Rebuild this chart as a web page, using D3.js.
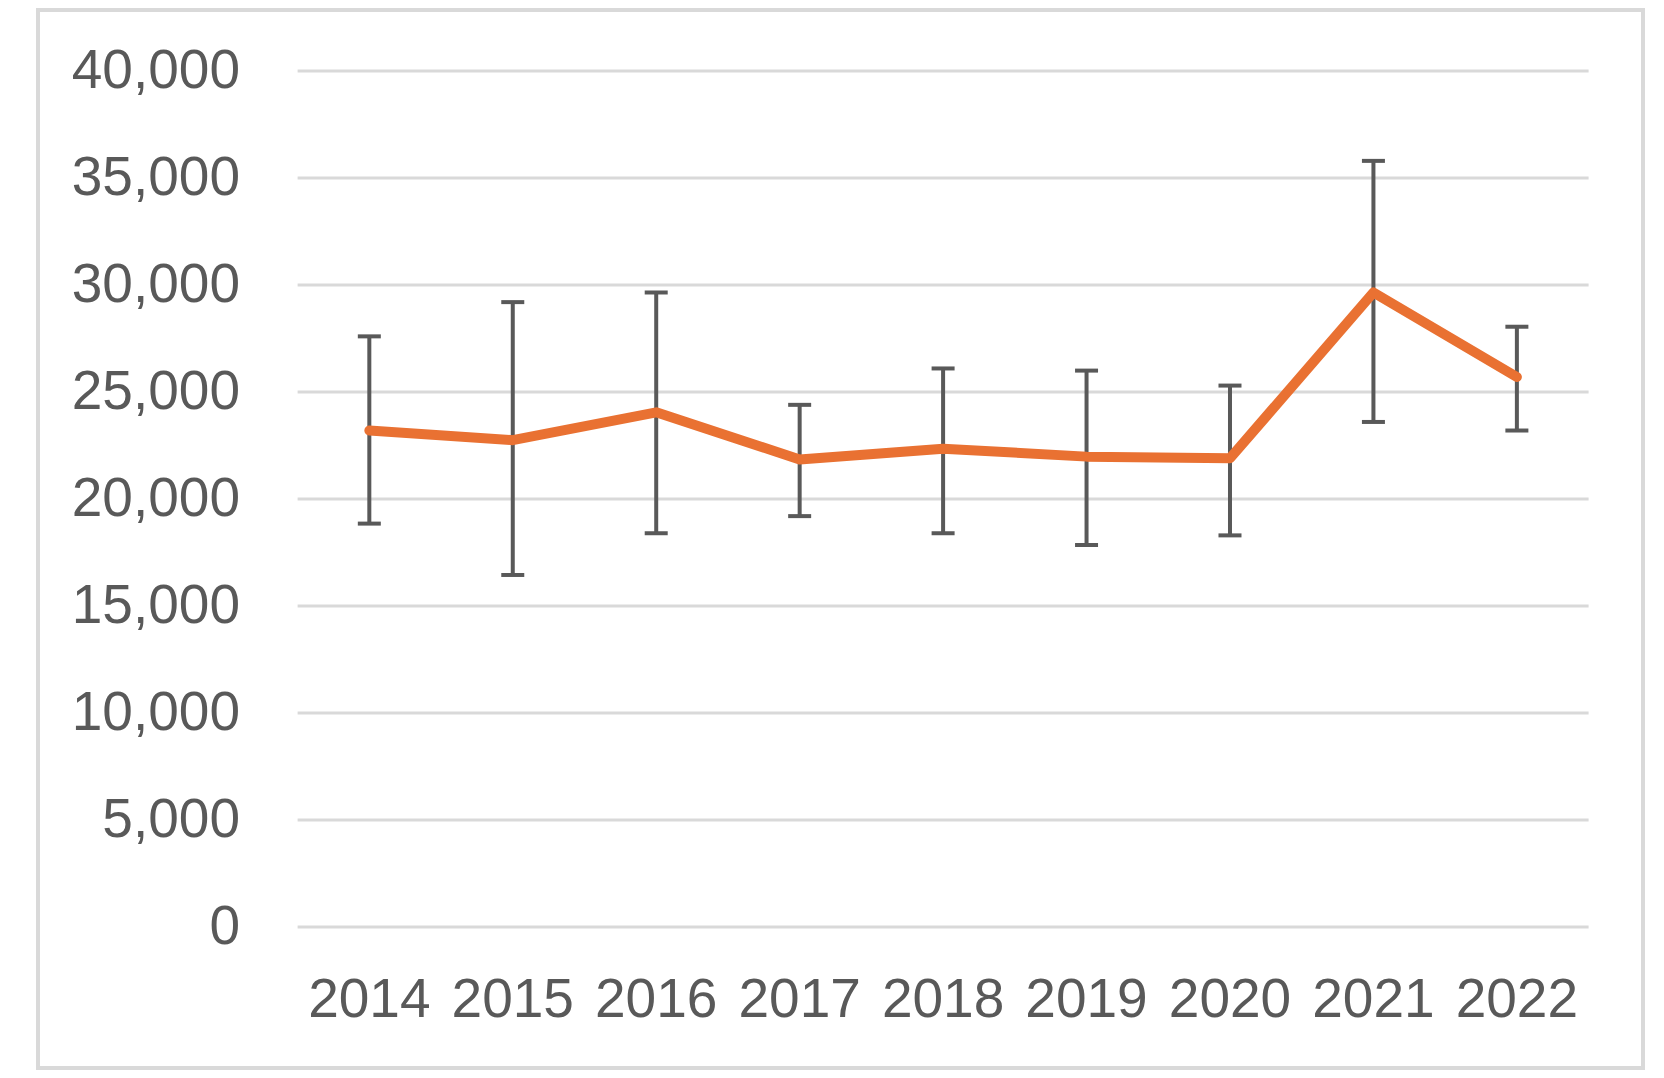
<!DOCTYPE html>
<html>
<head>
<meta charset="utf-8">
<script src="https://cdn.jsdelivr.net/npm/d3@7"></script>
<style>
  html, body { margin: 0; padding: 0; background: #fff; }
  svg { display: block; }
  .tick-label { font-family: "Liberation Sans", Arial, sans-serif; font-size: 55px; fill: #595959; }
</style>
</head>
<body>
<svg id="chart" width="1664" height="1078"></svg>
<script>
// chart values
let years = ["2014", "2015", "2016", "2017", "2018", "2019", "2020", "2021", "2022"]
let values = [23200, 22750, 24050, 21850, 22350, 21980, 21900, 29650, 25700]
let err_high = [27600, 29200, 29650, 24400, 26100, 26000, 25300, 35800, 28050]
let err_low = [18850, 16450, 18400, 19200, 18400, 17850, 18300, 23600, 23200]
let y_ticks = [0, 5000, 10000, 15000, 20000, 25000, 30000, 35000, 40000]

let svg = d3.select("#chart")

// outer frame
svg.append("rect")
  .attr("x", 38).attr("y", 10)
  .attr("width", 1605).attr("height", 1058)
  .attr("fill", "#fff")
  .attr("stroke", "#d9d9d9")
  .attr("stroke-width", 4)

let x = d3.scaleBand()
  .domain(years)
  .range([297.6, 1588.6])
  .padding(0)

let y = d3.scaleLinear()
  .domain([0, 40000])
  .range([927, 71])

let fmt = d3.format(",")
let cx = d => x(d) + x.bandwidth() / 2

// gridlines
svg.append("g")
  .selectAll("line")
  .data(y_ticks).enter()
  .append("line")
  .attr("x1", x.range()[0])
  .attr("x2", x.range()[1])
  .attr("y1", d => y(d))
  .attr("y2", d => y(d))
  .attr("stroke", "#d9d9d9")
  .attr("stroke-width", 3)

// y labels
svg.append("g")
  .selectAll("text")
  .data(y_ticks).enter()
  .append("text")
  .attr("class", "tick-label")
  .attr("x", 240)
  .attr("y", d => y(d))
  .attr("dy", "0.3em")
  .attr("text-anchor", "end")
  .text(d => fmt(d))

// x labels
svg.append("g")
  .selectAll("text")
  .data(years).enter()
  .append("text")
  .attr("class", "tick-label")
  .attr("x", d => cx(d))
  .attr("y", y(0) + 90)
  .attr("text-anchor", "middle")
  .text(d => d)

let rows = years.map((d, i) => ({year: d, value: values[i], hi: err_high[i], lo: err_low[i]}))

// error bars
let bars = svg.append("g")
  .attr("stroke", "#595959")
  .attr("stroke-width", 4)
  .selectAll("g")
  .data(rows).enter()
  .append("g")

bars.append("line")
  .attr("x1", d => cx(d.year)).attr("x2", d => cx(d.year))
  .attr("y1", d => y(d.hi)).attr("y2", d => y(d.lo))

bars.append("line")
  .attr("x1", d => cx(d.year) - 11.5).attr("x2", d => cx(d.year) + 11.5)
  .attr("y1", d => y(d.hi)).attr("y2", d => y(d.hi))

bars.append("line")
  .attr("x1", d => cx(d.year) - 11.5).attr("x2", d => cx(d.year) + 11.5)
  .attr("y1", d => y(d.lo)).attr("y2", d => y(d.lo))

// main series
let path_generator = d3.line()
  .x(d => cx(d.year))
  .y(d => y(d.value))

svg.append("path")
  .datum(rows)
  .attr("d", path_generator)
  .attr("fill", "none")
  .attr("stroke", "#e97132")
  .attr("stroke-width", 10)
  .attr("stroke-linejoin", "round")
  .attr("stroke-linecap", "round")
</script>
</body>
</html>
